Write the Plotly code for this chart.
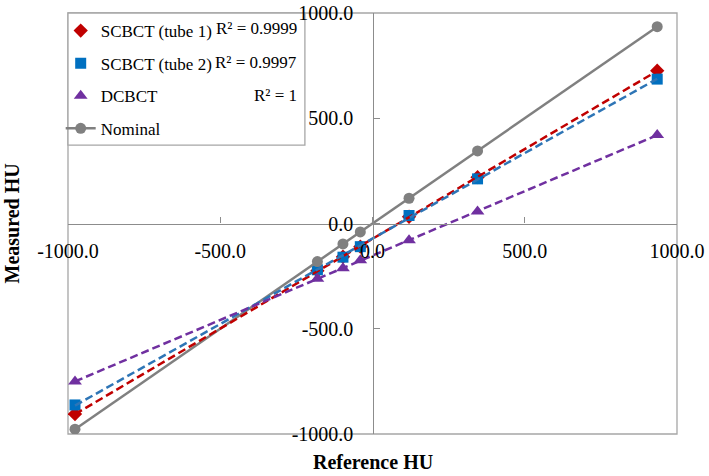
import numpy as np
import plotly.graph_objects as go

reference_hu = [-977, -181, -97, -40, 120, 345, 935]
scbct_tube1 = [-905, -225, -158, -110, 32, 220, 726]
scbct_tube2 = [-862, -220, -160, -110, 38, 212, 686]
dcbct = [-751, -262, -212, -175, -79, 57, 420]
nominal = [-977, -181, -97, -40, 120, 345, 935]

tick_vals = [-1000, -500, 0, 500, 1000]
tick_text = ["-1000.0", "-500.0", "0.0", "500.0", "1000.0"]
r2_labels = ["R² = 0.9999", "R² = 0.9997", "R² = 1"]

FONT = "Liberation Serif, Times New Roman, serif"
series = [
    ("SCBCT (tube 1)", scbct_tube1, "#C00000", "diamond", 11, "#C00000"),
    ("SCBCT (tube 2)", scbct_tube2, "#0070C0", "square", 11, "#2E75B6"),
    ("DCBCT", dcbct, "#7030A0", "triangle-up", 12, "#7030A0"),
]

fig = go.Figure()
for i, (name, ys, col, sym, sz, lcol) in enumerate(series):
    fig.add_trace(go.Scatter(x=reference_hu, y=ys, mode="markers", name=name, legendgroup="g%d" % i,
                             marker=dict(color=col, symbol=sym, size=sz)))
fig.add_trace(go.Scatter(x=reference_hu, y=nominal, mode="lines+markers", name="Nominal", legendgroup="g3",
                         line=dict(color="#808080", width=2.5),
                         marker=dict(color="#808080", symbol="circle", size=11)))
for name, ys, col, sym, sz, lcol in series:
    k, b = np.polyfit(reference_hu, ys, 1)
    xs = [min(reference_hu), max(reference_hu)]
    fig.add_trace(go.Scatter(x=xs, y=[k * v + b for v in xs], mode="lines", showlegend=False,
                             line=dict(color=lcol, width=2.5, dash="8px,4px"), hoverinfo="skip"))

axis_common = dict(range=[-1000, 1000], tickvals=tick_vals, ticktext=tick_text,
                   showgrid=False, zeroline=False, showline=True, linecolor="#8C8C8C", linewidth=1.3,
                   ticks="inside", ticklen=6, tickcolor="#8C8C8C", anchor="free", position=0.5,
                   tickfont=dict(family=FONT, size=20, color="black"), domain=[0, 1],
                   automargin=False)

fig.update_layout(
    width=709, height=476,
    margin=dict(l=68, r=32, t=13, b=42, autoexpand=False),
    font=dict(family=FONT, size=17, color="black"),
    paper_bgcolor="white", plot_bgcolor="white",
    xaxis=dict(**axis_common, ticklabelstandoff=9),
    yaxis=dict(**axis_common, ticklabelstandoff=15),
    showlegend=True,
    legend=dict(x=-0.012, y=1.0, xanchor="left", yanchor="top", bgcolor="rgba(0,0,0,0)",
                borderwidth=0, font=dict(family=FONT, size=17, color="black"),
                tracegroupgap=7.5),
    shapes=[
        dict(type="rect", xref="paper", yref="paper", x0=0, x1=1, y0=0, y1=1,
             line=dict(color="#A6A6A6", width=1.3), layer="below"),
        dict(type="rect", xref="paper", yref="paper", x0=0, x1=0.389, y0=0.686, y1=1,
             line=dict(color="#A6A6A6", width=1.3), fillcolor="white", layer="below"),
    ],
)

r2_y = [0.962, 0.8836, 0.805]
for txt, yy in zip(r2_labels, r2_y):
    fig.add_annotation(text=txt, xref="paper", yref="paper", x=0.3793, y=yy,
                       xanchor="right", yanchor="middle", showarrow=False,
                       font=dict(family=FONT, size=17, color="black"))

fig.add_annotation(text="<b>Reference HU</b>", xref="paper", yref="paper", x=0.5, y=-0.0665,
                   xanchor="center", yanchor="middle", showarrow=False,
                   font=dict(family=FONT, size=20, color="black"))
fig.add_annotation(text="<b>Measured HU</b>", xref="paper", yref="paper", x=-0.092, y=0.5,
                   xanchor="center", yanchor="middle", textangle=-90, showarrow=False,
                   font=dict(family=FONT, size=20, color="black"))

fig.write_html("out.html", config={"displayModeBar": False},
               post_script="document.body.style.margin='0';document.body.style.padding='0';")
